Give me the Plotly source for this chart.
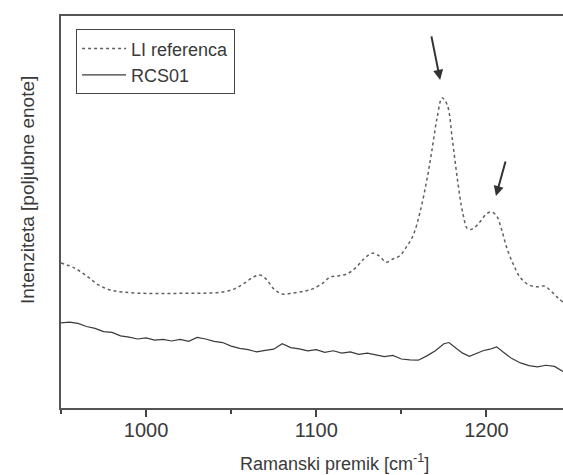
import plotly.graph_objects as go

# LI referenca (dotted)
ref_x = [950, 958, 965, 972, 979, 986, 995, 1005, 1015, 1025, 1035, 1045, 1052, 1058,
         1063, 1067, 1071, 1075, 1080, 1086, 1093, 1098, 1104, 1108, 1113, 1118, 1123,
         1128, 1133, 1137, 1141, 1145, 1149, 1153, 1157, 1161, 1165, 1168, 1171, 1174,
         1177, 1180, 1183, 1186, 1189, 1192, 1196, 1200, 1203, 1206, 1209, 1212, 1216,
         1220, 1225, 1230, 1234, 1238, 1242, 1245]
ref_y = [37.0, 35.7, 33.7, 31.4, 30.1, 29.6, 29.3, 29.2, 29.2, 29.3, 29.3, 29.6, 30.4, 31.9,
         33.4, 33.9, 32.7, 30.4, 29.1, 29.3, 29.8, 30.4, 31.9, 33.4, 33.7, 34.2, 35.7,
         38.0, 39.5, 38.8, 37.2, 38.0, 38.8, 41.1, 44.1, 50.0, 58.2, 65.8, 74.0, 79.1,
         77.3, 68.4, 58.2, 50.0, 45.7, 45.7, 47.4, 49.5, 50.0, 49.0, 45.4, 40.8, 36.5,
         33.2, 31.4, 30.9, 31.1, 29.8, 28.1, 27.0]

# RCS01 (solid)
rcs_x = [950, 955, 960, 965, 970, 975, 980, 985, 990, 995, 1000, 1005, 1010, 1015, 1020,
         1025, 1030, 1035, 1040, 1045, 1050, 1055, 1060, 1065, 1070, 1075, 1080, 1085,
         1090, 1095, 1100, 1105, 1110, 1115, 1120, 1125, 1130, 1135, 1140, 1145, 1150,
         1155, 1160, 1165, 1170, 1175, 1178, 1182, 1186, 1190, 1194, 1198, 1202, 1206,
         1210, 1215, 1220, 1225, 1230, 1235, 1240, 1245]
rcs_y = [21.7, 21.9, 21.6, 20.8, 20.3, 19.5, 19.3, 18.4, 18.1, 17.6, 17.9, 17.3, 17.5, 17.1,
         17.5, 17.0, 18.0, 17.6, 17.0, 16.7, 15.8, 15.2, 14.9, 14.3, 14.7, 15.0, 16.4, 15.4,
         15.1, 14.6, 14.9, 14.2, 14.6, 14.0, 14.3, 13.7, 14.0, 13.6, 13.1, 13.4, 12.5,
         12.3, 12.2, 13.3, 14.6, 16.4, 16.7, 15.3, 14.0, 13.2, 13.9, 14.6, 15.0, 15.6,
         14.2, 12.6, 11.5, 10.8, 10.5, 10.9, 10.6, 9.3]

# arrow tips (marked peaks)
arrow_x = [1172.8, 1205.6]
arrow_y = [83.7, 54.1]
arrow_ax = [-9, 10]
arrow_ay = [-45, -36]

x_ticks = [1000, 1100, 1200]
x_minor = [950, 1050, 1150]

TXT = "#3a3a3a"

fig = go.Figure()
fig.add_trace(go.Scatter(x=ref_x, y=ref_y, mode="lines", name="LI referenca",
                         line=dict(color="#606060", width=1.5, dash="dot", shape="spline")))
fig.add_trace(go.Scatter(x=rcs_x, y=rcs_y, mode="lines", name="RCS01",
                         line=dict(color="#3a3a3a", width=1.2)))

for xa, ya, dx, dy in zip(arrow_x, arrow_y, arrow_ax, arrow_ay):
    fig.add_annotation(x=xa, y=ya, ax=dx, ay=dy, xref="x", yref="y", text="",
                       showarrow=True, arrowhead=2, arrowsize=1, arrowwidth=2,
                       arrowcolor="#333333")

# axis titles as annotations (positioned like the reference)
fig.add_annotation(text="Ramanski premik [cm<sup>-1</sup>]", xref="paper", yref="paper",
                   x=0.544, y=-0.138, xanchor="center", yanchor="middle",
                   showarrow=False, font=dict(size=18, color=TXT))
fig.add_annotation(text="Intenziteta [poljubne enote]", xref="paper", yref="paper",
                   x=-0.068, y=0.556, xanchor="center", yanchor="middle", textangle=-90,
                   showarrow=False, font=dict(size=19, color=TXT))

fig.update_layout(
    width=563, height=475,
    margin=dict(l=61, r=0, t=16, b=67),
    paper_bgcolor="white", plot_bgcolor="white",
    font=dict(family="Liberation Sans, Arial, sans-serif", color=TXT),
    showlegend=True,
    legend=dict(x=0.03, y=0.966, xanchor="left", yanchor="top",
                bgcolor="white", bordercolor="#444444", borderwidth=1,
                font=dict(size=18, color=TXT), tracegroupgap=0,
                itemwidth=44),
    xaxis=dict(range=[950, 1245], tickvals=x_ticks, ticks="outside", ticklen=7,
               tickwidth=1.5, tickcolor="#444444", automargin=False,
               ticklabelstandoff=-4,
               minor=dict(tickvals=x_minor, ticks="outside", ticklen=4,
                          tickcolor="#444444", tickwidth=1.5),
               showline=True, linecolor="#555555", linewidth=2, mirror=True,
               showgrid=False, zeroline=False,
               tickfont=dict(size=20, color=TXT)),
    yaxis=dict(range=[0, 100], showticklabels=False, ticks="", automargin=False,
               showline=True, linecolor="#555555", linewidth=2,
               showgrid=False, zeroline=False),
)

fig.write_html("out.html",
               config={"displayModeBar": False},
               post_script="document.body.style.margin='0';"
                           "document.body.style.padding='0';"
                           "document.body.style.overflow='hidden';")
